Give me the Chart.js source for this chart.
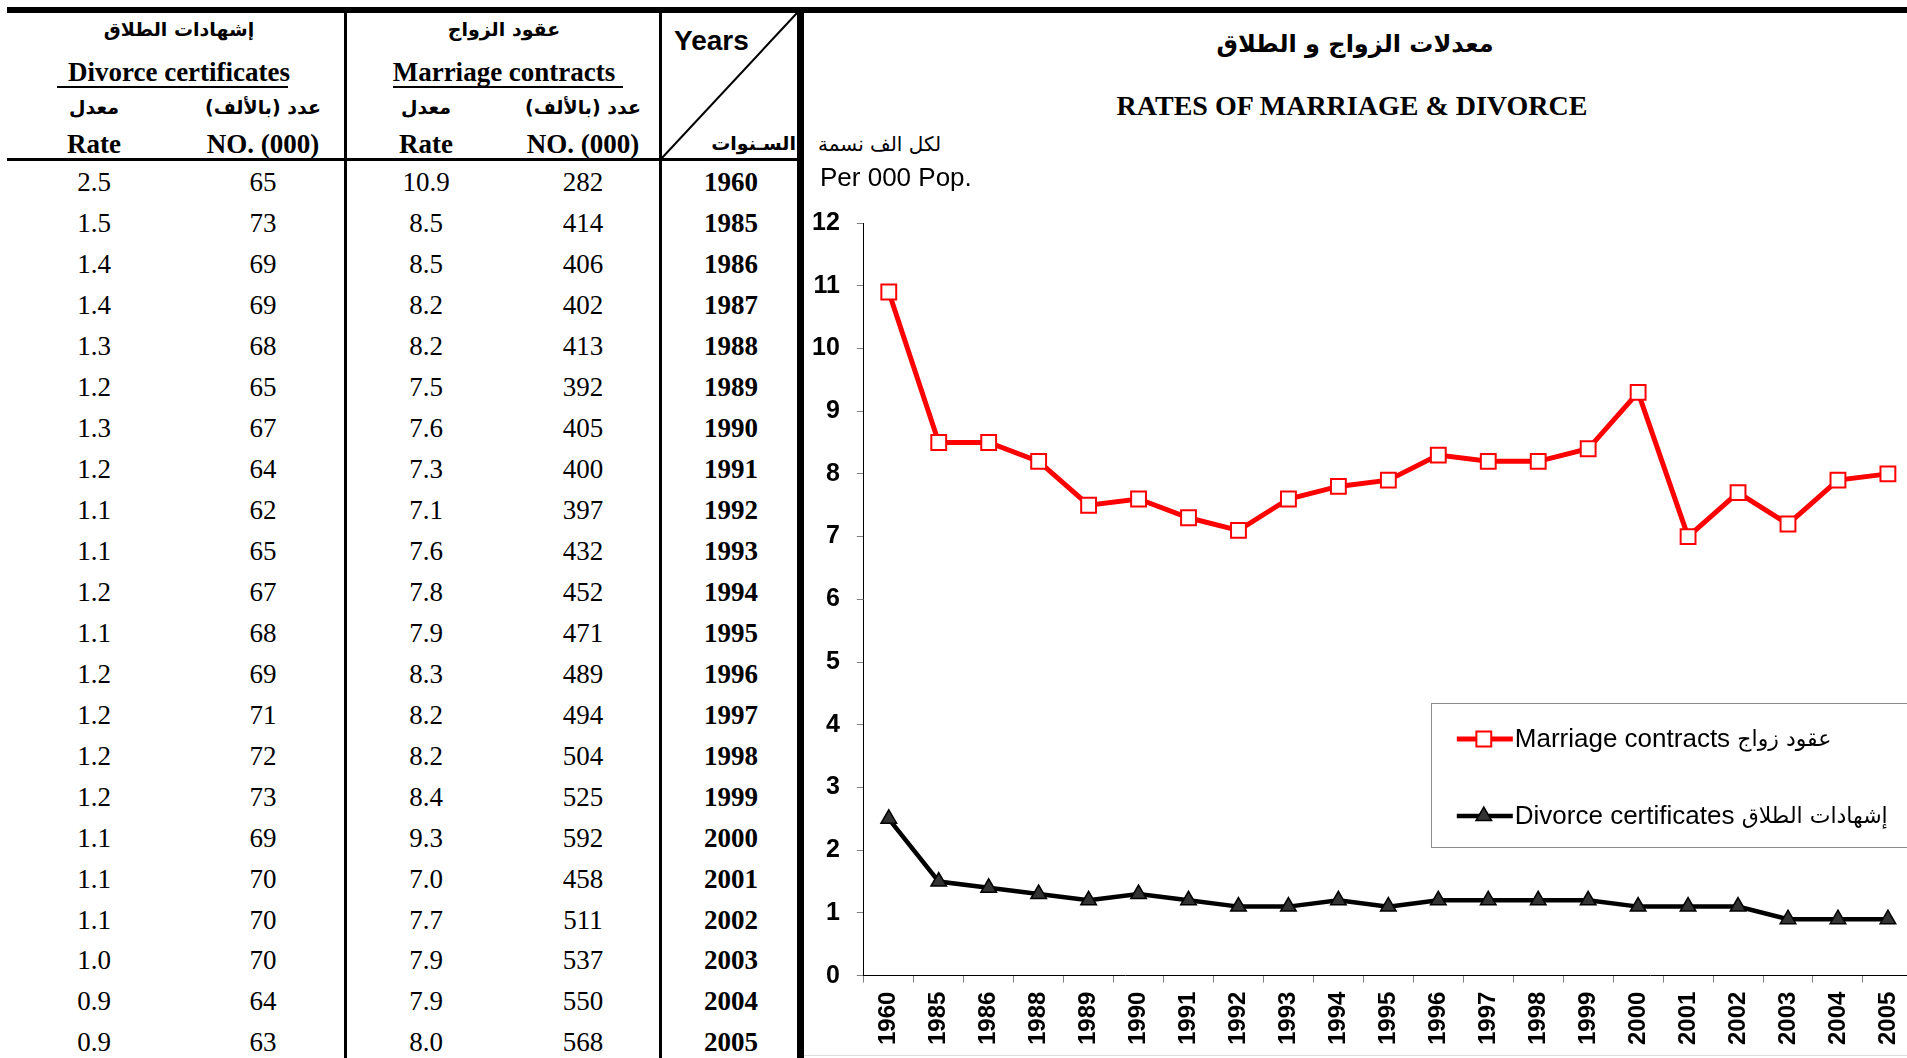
<!DOCTYPE html>
<html>
<head>
<meta charset="utf-8">
<script src="https://cdn.jsdelivr.net/npm/chart.js@4.4.0/dist/chart.umd.min.js"></script>
<style>
html, body { margin:0; padding:0; background:#fff; }
body { width:1907px; height:1058px; overflow:hidden; position:relative; }
.t { position:absolute; white-space:nowrap; color:#000; line-height:1; }
.serif { font:27px "Liberation Serif", "Times New Roman", serif; }
.serifB { font:bold 27px "Liberation Serif", "Times New Roman", serif; }
.tituloEn { font:bold 28px "Liberation Serif", "Times New Roman", serif; }
.ar { font:bold 19px "DejaVu Sans", sans-serif; }
.arTitulo { font:bold 24px "DejaVu Sans", sans-serif; }
.arR { font:20px "DejaVu Sans", sans-serif; }
.sans { font:26px "Liberation Sans", Arial, sans-serif; }
.sansB { font:bold 28px "Liberation Sans", Arial, sans-serif; }
.ln { position:absolute; background:#000; }
#box { position:absolute; left:786.2px; top:190.7px; width:1140px; height:863px; }
</style>
</head>
<body>
<div class="ln" style="left:7px;top:7px;width:1900px;height:6px"></div>
<div class="ln" style="left:344px;top:7px;width:3px;height:1051px"></div>
<div class="ln" style="left:659px;top:7px;width:3px;height:1051px"></div>
<div class="ln" style="left:797px;top:7px;width:7px;height:1051px"></div>
<div class="ln" style="left:7px;top:158px;width:790px;height:3px"></div>
<div class="ln" style="left:57px;top:86px;width:231px;height:2px"></div>
<div class="ln" style="left:393px;top:86px;width:230px;height:2px"></div>
<div class="ln" style="left:804px;top:1055px;width:1103px;height:1px;background:#ddd"></div>
<svg style="position:absolute;left:0;top:0" width="820" height="170">
  <line x1="661" y1="159" x2="797" y2="13" stroke="#000" stroke-width="2"/>
</svg>
<div id="box"><canvas id="grafico"></canvas></div>

<script>
// table data
var tablaAnios = ['1960','1985','1986','1987','1988','1989','1990','1991','1992','1993','1994','1995','1996','1997','1998','1999','2000','2001','2002','2003','2004','2005'];
var divorcioTasa = ['2.5','1.5','1.4','1.4','1.3','1.2','1.3','1.2','1.1','1.1','1.2','1.1','1.2','1.2','1.2','1.2','1.1','1.1','1.1','1.0','0.9','0.9'];
var divorcioNum = [65,73,69,69,68,65,67,64,62,65,67,68,69,71,72,73,69,70,70,70,64,63];
var matrimonioTasa = ['10.9','8.5','8.5','8.2','8.2','7.5','7.6','7.3','7.1','7.6','7.8','7.9','8.3','8.2','8.2','8.4','9.3','7.0','7.7','7.9','7.9','8.0'];
var matrimonioNum = [282,414,406,402,413,392,405,400,397,432,452,471,489,494,504,525,592,458,511,537,550,568];

// chart data (as plotted)
var anios = ['1960','1985','1986','1988','1989','1990','1991','1992','1993','1994','1995','1996','1997','1998','1999','2000','2001','2002','2003','2004','2005'];
var matrimonio = [10.9,8.5,8.5,8.2,7.5,7.6,7.3,7.1,7.6,7.8,7.9,8.3,8.2,8.2,8.4,9.3,7.0,7.7,7.2,7.9,8.0];
var divorcio = [2.5,1.5,1.4,1.3,1.2,1.3,1.2,1.1,1.1,1.2,1.1,1.2,1.2,1.2,1.2,1.1,1.1,1.1,0.9,0.9,0.9];
var yTicks = [0,1,2,3,4,5,6,7,8,9,10,11,12];
var etiquetasEn = ['Marriage contracts', 'Divorce certificates'];
var etiquetasAr = ['عقود زواج', 'إشهادات الطلاق'];

function poner(txt, x, y, cls, al){
    var d = document.createElement('div');
    d.className = 't ' + cls;
    d.textContent = txt;
    d.style.left = x + 'px';
    d.style.top = y + 'px';
    if (al == 'l') d.style.transform = 'translate(0,-50%)';
    else if (al == 'r') d.style.transform = 'translate(-100%,-50%)';
    else d.style.transform = 'translate(-50%,-50%)';
    document.body.appendChild(d);
}

// table header
poner('إشهادات الطلاق', 179, 29, 'ar');
poner('Divorce certificates', 179, 72, 'serifB');
poner('معدل', 94, 107, 'ar');
poner('عدد (بالألف)', 263, 107, 'ar');
poner('Rate', 94, 144, 'serifB');
poner('NO. (000)', 263, 144, 'serifB');
poner('عقود الزواج', 504, 29, 'ar');
poner('Marriage contracts', 504, 72, 'serifB');
poner('معدل', 426, 107, 'ar');
poner('عدد (بالألف)', 583, 107, 'ar');
poner('Rate', 426, 144, 'serifB');
poner('NO. (000)', 583, 144, 'serifB');
poner('Years', 674, 41, 'sansB', 'l');
poner('السـنوات', 796, 143, 'ar', 'r');

// table rows
for (var i = 0; i < tablaAnios.length; i++) {
    var y = 182.4 + i * 40.95;
    poner(divorcioTasa[i], 94, y, 'serif');
    poner(divorcioNum[i], 263, y, 'serif');
    poner(matrimonioTasa[i], 426, y, 'serif');
    poner(matrimonioNum[i], 583, y, 'serif');
    poner(tablaAnios[i], 731, y, 'serifB');
}

// chart titles
poner('معدلات الزواج و الطلاق', 1355, 44, 'arTitulo');
poner('RATES OF MARRIAGE & DIVORCE', 1352, 106, 'tituloEn');
poner('لكل الف نسمة', 818, 144, 'arR', 'l');
poner('Per 000 Pop.', 820, 177, 'sans', 'l');

var leyenda = {
    id: 'leyenda',
    afterDraw: function(chart){
        var ctx = chart.ctx;
        var a = chart.chartArea;
        var x0 = a.left + 567, y0 = a.top + 480;
        ctx.save();
        ctx.strokeStyle = '#8c8c8c';
        ctx.lineWidth = 1;
        ctx.strokeRect(Math.round(x0) + 0.5, Math.round(y0) + 0.5, 600, 144);
        chart.data.datasets.forEach(function(ds, i){
            var cy = y0 + 36 + i * 77;
            ctx.beginPath();
            ctx.strokeStyle = ds.borderColor;
            ctx.lineWidth = ds.borderWidth;
            ctx.moveTo(x0 + 26, cy);
            ctx.lineTo(x0 + 82, cy);
            ctx.stroke();
            ctx.fillStyle = ds.pointBackgroundColor;
            ctx.strokeStyle = ds.pointBorderColor;
            ctx.lineWidth = ds.pointBorderWidth;
            var mx = x0 + 53, r = ds.pointRadius;
            ctx.beginPath();
            if (ds.pointStyle == 'rect') {
                var s = r * Math.SQRT1_2;
                ctx.rect(mx - s, cy - s, 2 * s, 2 * s);
            } else {
                ctx.moveTo(mx, cy - r);
                ctx.lineTo(mx + r * 0.866, cy + r / 2);
                ctx.lineTo(mx - r * 0.866, cy + r / 2);
                ctx.closePath();
            }
            ctx.fill();
            ctx.stroke();
            ctx.fillStyle = '#000';
            ctx.textBaseline = 'middle';
            ctx.textAlign = 'left';
            ctx.font = '26px "Liberation Sans", Arial, sans-serif';
            var txt = etiquetasEn[i] + ' ';
            ctx.fillText(txt, x0 + 84, cy + 1);
            var w = ctx.measureText(txt).width;
            ctx.font = '22px "DejaVu Sans", sans-serif';
            ctx.fillText(etiquetasAr[i], x0 + 84 + w, cy + 1);
        });
        ctx.restore();
    }
};

var chartDiv = document.getElementById('grafico');
var myChart = new Chart(chartDiv, {
    type: 'line',
    data: {
        labels: anios,
        datasets: [
        {
            label: 'Marriage contracts عقود زواج',
            data: matrimonio,
            borderColor: '#FF0000',
            borderWidth: 5,
            pointStyle: 'rect',
            pointRadius: 10.5,
            pointHoverRadius: 10.5,
            pointBackgroundColor: '#FFFFFF',
            pointBorderColor: '#FF0000',
            pointBorderWidth: 2,
            tension: 0
        },
        {
            label: 'Divorce certificates إشهادات الطلاق',
            data: divorcio,
            borderColor: '#000000',
            borderWidth: 4.5,
            pointStyle: 'triangle',
            pointRadius: 9,
            pointHoverRadius: 9,
            pointBackgroundColor: '#333333',
            pointBorderColor: '#000000',
            pointBorderWidth: 1.5,
            tension: 0
        }]
    },
    options: {
        responsive: true,
        maintainAspectRatio: false,
        animation: false,
        devicePixelRatio: 1,
        layout: { padding: { left: 9, top: 10, right: 10, bottom: 0 } },
        plugins: {
            legend: { display: false },
            title: { display: false },
            tooltip: { enabled: false }
        },
        scales: {
            x: {
                offset: true,
                grid: { offset: true, drawOnChartArea: false, drawTicks: true, tickLength: 7, tickColor: '#808080' },
                border: { color: '#000', width: 1 },
                ticks: {
                    autoSkip: false, minRotation: 90, maxRotation: 90, padding: 9, color: '#000',
                    font: { family: '"Liberation Sans", Arial', size: 24, weight: 'bold' }
                }
            },
            y: {
                min: 0, max: 12,
                afterBuildTicks: function(ax){ ax.ticks = yTicks.map(function(v){ return { value: v }; }); },
                grid: { drawOnChartArea: false, drawTicks: true, tickLength: 7, tickColor: '#808080' },
                border: { color: '#000', width: 1 },
                ticks: {
                    padding: 17, color: '#000',
                    font: { family: '"Liberation Sans", Arial', size: 25, weight: 'bold' }
                }
            }
        }
    },
    plugins: [leyenda]
});
</script>
</body>
</html>
